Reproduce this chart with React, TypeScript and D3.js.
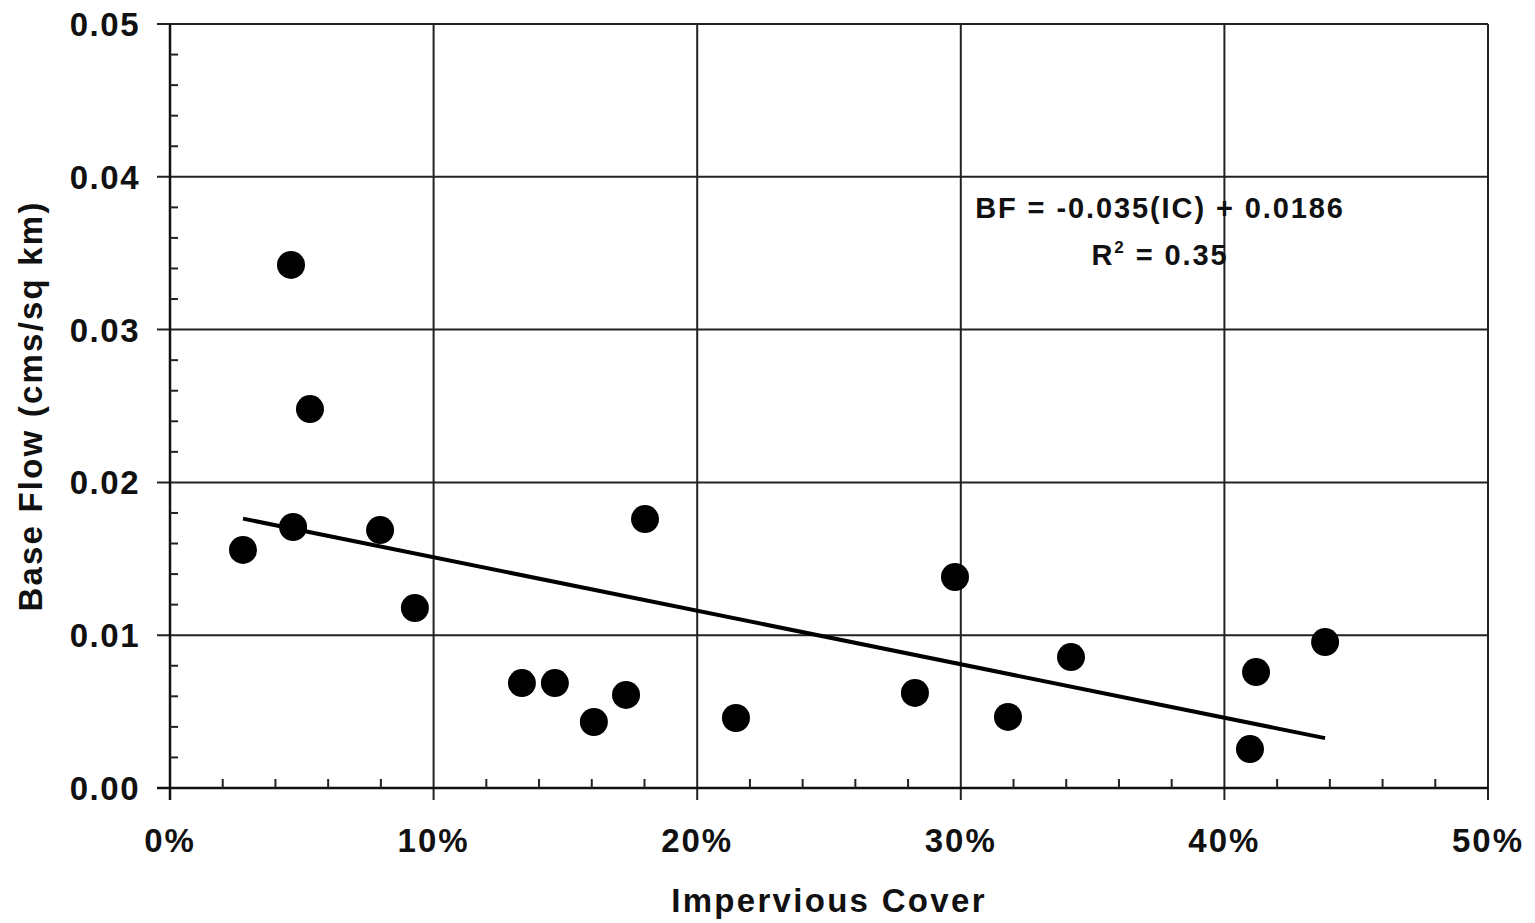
import React from "react"
import * as d3 from "d3"

// impervious cover (fraction) vs base flow (cms/sq km)
const impervious = [0.0277, 0.0459, 0.0531, 0.0467, 0.0797, 0.0929, 0.1335, 0.146, 0.1608, 0.173, 0.1802, 0.2147, 0.2826, 0.2978, 0.3179, 0.3418, 0.4097, 0.412, 0.4382]
const baseFlow = [0.01558, 0.03423, 0.0248, 0.01708, 0.01688, 0.01178, 0.00687, 0.00687, 0.00432, 0.00609, 0.0176, 0.00458, 0.00622, 0.01381, 0.00465, 0.00857, 0.00255, 0.00759, 0.00955]

// regression: BF = -0.035(IC) + 0.0186
const slope = -0.035
const intercept = 0.0186

const xTicks = [0, 0.1, 0.2, 0.3, 0.4, 0.5]
const yTicks = [0, 0.01, 0.02, 0.03, 0.04, 0.05]

const W = 1535, H = 923
const margin = { top: 24, right: 47, bottom: 135, left: 170 }

export default function App() {
  const x = d3.scaleLinear().domain([0, 0.5]).range([margin.left, W - margin.right])
  const y = d3.scaleLinear().domain([0, 0.05]).range([H - margin.bottom, margin.top])

  const xMinor = d3.range(0, 0.5001, 0.02).filter(v => Math.abs(v * 10 - Math.round(v * 10)) > 1e-6)
  const yMinor = d3.range(0, 0.05001, 0.002).filter(v => Math.abs(v * 100 - Math.round(v * 100)) > 1e-6)

  const pts = impervious.map((d, i) => ({ x: d, y: baseFlow[i] }))
  const [xmin, xmax] = d3.extent(impervious) as [number, number]
  const line = d3.line<number>().x(d => x(d)).y(d => y(slope * d + intercept))

  const font = "'Liberation Sans', Arial, sans-serif"
  const x0 = x(0), x1 = x(0.5), y0 = y(0), y1 = y(0.05)

  return (
    <svg width={W} height={H} style={{ position: "absolute", left: 0, top: 0, background: "#fff" }} fontFamily={font} fontWeight="bold">
      {/* grid */}
      {xTicks.slice(1, -1).map(t => (
        <line key={"gx" + t} x1={x(t)} x2={x(t)} y1={y1} y2={y0 + 12} stroke="#222" strokeWidth={2} />
      ))}
      {yTicks.slice(1).map(t => (
        <line key={"gy" + t} x1={x0 - 13} x2={x1} y1={y(t)} y2={y(t)} stroke="#222" strokeWidth={2} />
      ))}
      {/* frame */}
      <line x1={x1} x2={x1} y1={y1} y2={y0 + 12} stroke="#222" strokeWidth={2} />
      <line x1={x0} x2={x0} y1={y1} y2={y0 + 12} stroke="#111" strokeWidth={2.5} />
      <line x1={x0 - 13} x2={x1} y1={y0} y2={y0} stroke="#111" strokeWidth={2.5} />
      {/* minor ticks */}
      {xMinor.map(t => (
        <line key={"mx" + t} x1={x(t)} x2={x(t)} y1={y0} y2={y0 - 9} stroke="#222" strokeWidth={2} />
      ))}
      {yMinor.map(t => (
        <line key={"my" + t} x1={x0} x2={x0 + 8} y1={y(t)} y2={y(t)} stroke="#222" strokeWidth={2} />
      ))}
      {/* tick labels */}
      {xTicks.map(t => (
        <text key={"lx" + t} x={x(t)} y={y0 + 64} textAnchor="middle" fontSize={33} letterSpacing={2} fill="#111">
          {d3.format(".0%")(t)}
        </text>
      ))}
      {yTicks.map(t => (
        <text key={"ly" + t} x={x0 - 30} y={y(t) + 12} textAnchor="end" fontSize={33} letterSpacing={1.5} fill="#111">
          {d3.format(".2f")(t)}
        </text>
      ))}
      {/* axis titles */}
      <text x={(x0 + x1) / 2} y={912} textAnchor="middle" fontSize={33} letterSpacing={2.3} fill="#111">Impervious Cover</text>
      <text transform={`translate(42,${(y0 + y1) / 2}) rotate(-90)`} textAnchor="middle" fontSize={33} letterSpacing={2.2} fill="#111">
        Base Flow (cms/sq km)
      </text>
      {/* trend line */}
      <path d={line([xmin, xmax]) || ""} fill="none" stroke="#000" strokeWidth={4} />
      {/* points */}
      {pts.map((p, i) => (
        <circle key={i} cx={x(p.x)} cy={y(p.y)} r={14} fill="#000" />
      ))}
      {/* equation */}
      <text x={1160} y={218} textAnchor="middle" fontSize={29} letterSpacing={1.9} fill="#111">BF = -0.035(IC) + 0.0186</text>
      <text x={1160} y={265} textAnchor="middle" fontSize={29} letterSpacing={1.9} fill="#111">
        R<tspan dy={-12} fontSize={17}>2</tspan><tspan dy={12}> = 0.35</tspan>
      </text>
    </svg>
  )
}
